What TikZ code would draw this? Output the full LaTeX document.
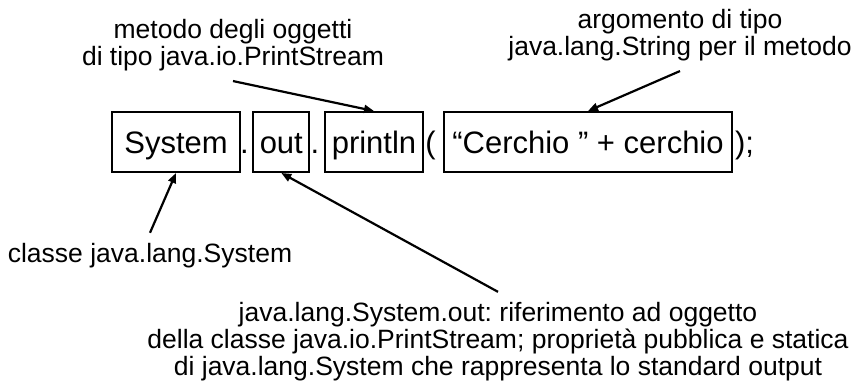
\documentclass[tikz,border=0pt]{standalone}
\usepackage{fontspec}
\setmainfont{Liberation Sans}
\frenchspacing
\usetikzlibrary{arrows.meta}
\tikzset{codebox/.style={draw,line width=2pt,minimum height=60pt,inner sep=0pt,text height=22pt,text depth=0pt,font=\fontsize{31}{35}\selectfont},
         punct/.style={inner sep=0pt,anchor=base,font=\fontsize{31}{35}\selectfont},
         note/.style={inner sep=0pt,outer sep=10pt,align=center,font=\fontsize{26.5}{27}\selectfont},
         pointer/.style={-{Triangle[length=10pt,width=8pt]},line width=2.2pt},
        }

\begin{document}
\begin{tikzpicture}[x=1pt,y=-1pt]
        \useasboundingbox (0,0) rectangle (857,388);

        \node[codebox, minimum width=128pt](sys)at(176,142){System};
        \node[punct](dot1)at(244.5,153){.};
        \node[codebox, minimum width=56pt](out)at(281.3,142){out};
        \node[punct](dot2)at(315,153){.};
        \node[codebox, minimum width=98pt](prt)at(374,142){println};
        \node[punct](lpar)at(430.5,153){(};
        \node[codebox, minimum width=288pt](arg)at(588,142){“Cerchio ” + cerchio};
        \node[punct](rpar)at(744.5,153){);};

        \node[note](mtd)at(233,45.2){metodo degli oggetti\\di tipo java.io.PrintStream};
        \node[note](strg)at(680,35.2){argomento di tipo\\java.lang.String per il metodo};
        \node[note, anchor=base](cls)at(150,262){classe java.lang.System};
        \node[note](fld)at(498,341.2){java.lang.System.out: riferimento ad oggetto\\della classe java.io.PrintStream; proprietà pubblica e statica\\di java.lang.System che rappresenta lo standard output};

        \draw[pointer](mtd.south)--(prt.north);
        \draw[pointer](strg.south)--(arg.north);
        \draw[pointer](cls.north)--(sys.south);
        \draw[pointer](fld.north)--(out.south);
\end{tikzpicture}
\end{document}
